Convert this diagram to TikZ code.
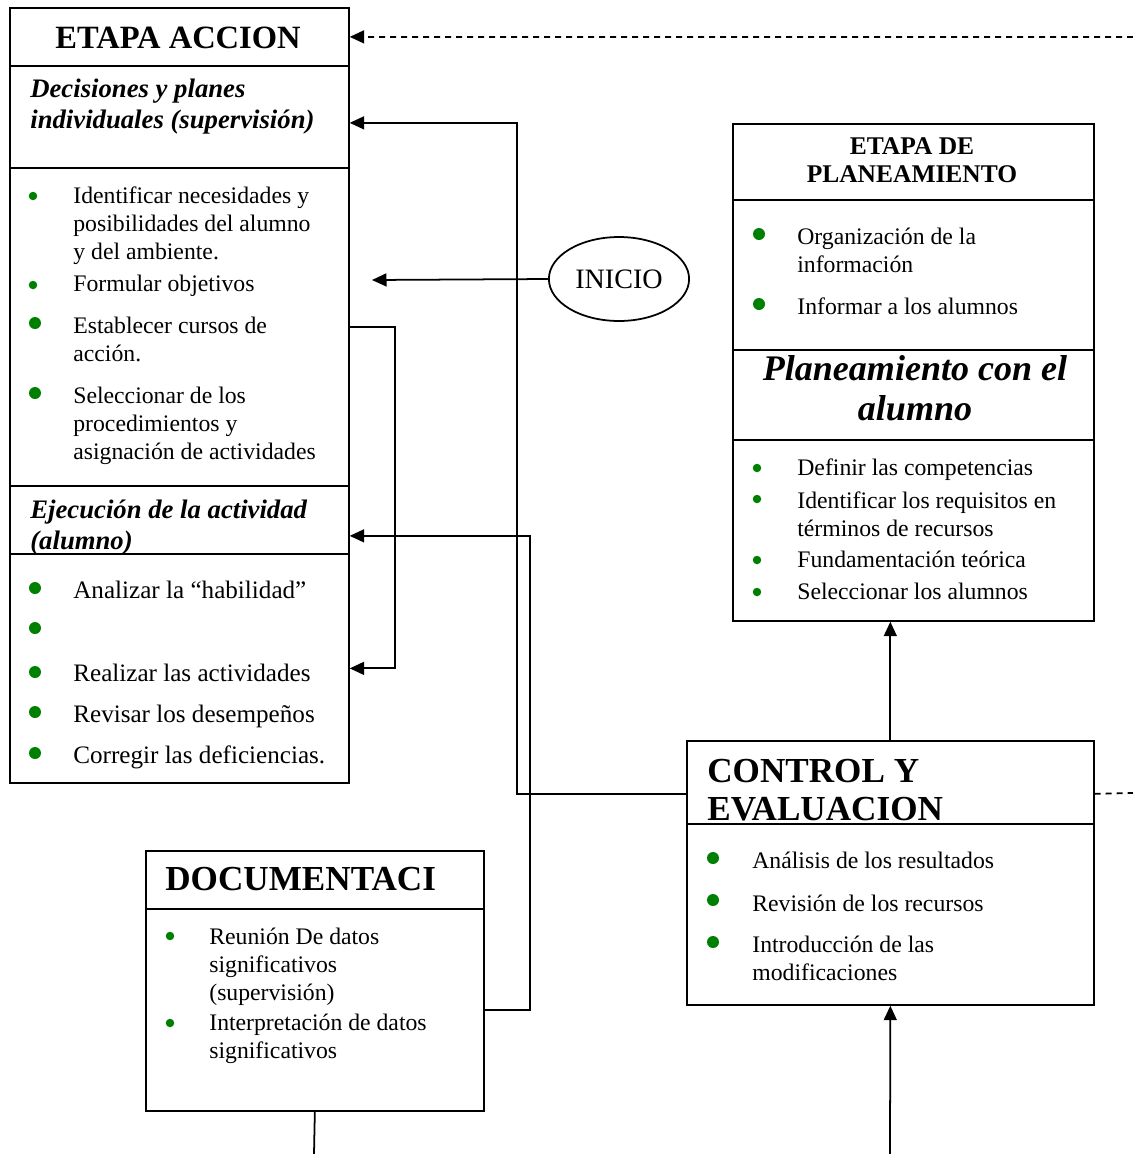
\documentclass[tikz,border=0pt]{standalone}
\usepackage{fontspec}
\setmainfont{Liberation Serif}
\usetikzlibrary{arrows.meta,shapes.geometric}

\definecolor{bulletgreen}{RGB}{0,128,0}
\newcommand\fItem{\fontsize{13.5}{15.9}\selectfont}
\newcommand\fBigItem{\fontsize{14.3}{16}\selectfont}
\newcommand\fTitle{\fontsize{18.5}{21.5}\selectfont\bfseries}
\newcommand\fTitleB{\fontsize{20}{21.5}\selectfont\bfseries}
\newcommand\fSub{\fontsize{15.2}{17.5}\selectfont\bfseries\itshape}
\newcommand\fPHead{\fontsize{14.5}{15.9}\selectfont\bfseries}
\newcommand\fPTitle{\fontsize{20.5}{22.7}\selectfont\bfseries\itshape}

\begin{document}
\begin{tikzpicture}[x=0.02cm,y=-0.02cm,
    cell/.style={draw,line width=1pt,anchor=north west,inner sep=0pt},
    txt/.style={anchor=base west,align=left,inner sep=0pt,font=\fItem},
    dot/.style={circle,fill=bulletgreen,inner sep=0pt,minimum size=0.24cm},
    smalldot/.style={dot,minimum size=0.17cm},
    arr/.style={line width=1pt,-{Triangle[length=2.9mm,width=2.6mm]}}]
\useasboundingbox (0,0) rectangle (1133,1154);

% etapa accion (base = last line)
\node[cell,minimum width=6.78cm,minimum height=1.16cm] (aH) at (9,7) {};
\node[cell,minimum width=6.78cm,minimum height=2.04cm] (aDec) at (9,65) {};
\node[cell,minimum width=6.78cm,minimum height=6.36cm] (aList1) at (9,167) {};
\node[cell,minimum width=6.78cm,minimum height=1.36cm] (aEje) at (9,485) {};
\node[cell,minimum width=6.78cm,minimum height=4.58cm] (aList2) at (9,553) {};
\node[anchor=base,inner sep=0pt,font=\fTitle] (aHt) at (178,48) {ETAPA ACCION};
\node[txt,font=\fSub] (aDect) at (30,128) {Decisiones y planes\\individuales (supervisión)};
\node[txt] (a1) at (73,259) {Identificar necesidades y\\posibilidades del alumno\\y del ambiente.};
\node[txt] (a2) at (73,291) {Formular objetivos};
\node[txt] (a3) at (73,361) {Establecer cursos de\\acción.};
\node[txt] (a4) at (73,459) {Seleccionar de los\\procedimientos y\\asignación de actividades};
\node[txt,font=\fSub] (aEjet) at (30,549) {Ejecución de la actividad\\(alumno)};
\node[txt,font=\fBigItem] (a5) at (73,598) {Analizar la “habilidad”};
\node[txt,font=\fBigItem] (a6) at (73,681) {Realizar las actividades};
\node[txt,font=\fBigItem] (a7) at (73,722) {Revisar los desempeños};
\node[txt,font=\fBigItem] (a8) at (73,763) {Corregir las deficiencias.};
\foreach \y [count=\i] in {196,285} \node[smalldot] (ad\i) at (33,\y) {};
\foreach \y [count=\i] in {323,393,588,628,672,712,753} \node[dot] (aD\i) at (35,\y) {};

% etapa de planeamiento
\node[cell,minimum width=7.22cm,minimum height=1.52cm] (pH) at (732,123) {};
\node[cell,minimum width=7.22cm,minimum height=3cm] (pList1) at (732,199) {};
\node[cell,minimum width=7.22cm,minimum height=1.8cm] (pCon) at (732,349) {};
\node[cell,minimum width=7.22cm,minimum height=3.62cm] (pList2) at (732,439) {};
\node[anchor=base,align=center,inner sep=0pt,font=\fPHead] (pHt) at (912,182) {ETAPA DE\\PLANEAMIENTO};
\node[txt] (p1) at (797,272) {Organización de la\\información};
\node[txt] (p2) at (797,314) {Informar a los alumnos};
\node[anchor=base,align=center,inner sep=0pt,font=\fPTitle] (pCont) at (915,420) {Planeamiento con el\\alumno};
\node[txt] (p3) at (797,475) {Definir las competencias};
\node[txt] (p4) at (797,536) {Identificar los requisitos en\\términos de recursos};
\node[txt] (p5) at (797,567) {Fundamentación teórica};
\node[txt] (p6) at (797,599) {Seleccionar los alumnos};
\foreach \y [count=\i] in {234,304} \node[dot] (pD\i) at (759,\y) {};
\foreach \y [count=\i] in {468,499,560,592} \node[smalldot] (pd\i) at (757,\y) {};

% control y evaluacion
\node[cell,minimum width=8.14cm,minimum height=1.66cm] (cH) at (686,740) {};
\node[cell,minimum width=8.14cm,minimum height=3.62cm] (cB) at (686,823) {};
\node[txt,font=\fTitleB] (cHt) at (707,820) {CONTROL Y\\EVALUACION};
\node[txt] (c1) at (752,868) {Análisis de los resultados};
\node[txt] (c2) at (752,911) {Revisión de los recursos};
\node[txt] (c3) at (752,980) {Introducción de las\\modificaciones};
\foreach \y [count=\i] in {858,900,942} \node[dot] (cD\i) at (713,\y) {};

% documentacion
\node[cell,minimum width=6.76cm,minimum height=1.16cm] (dH) at (145,850) {};
\node[cell,minimum width=6.76cm,minimum height=4.04cm] (dB) at (145,908) {};
\node[txt,font=\fTitleB] (dHt) at (165,890) {DOCUMENTACI};
\node[txt] (d1) at (209,1000) {Reunión De datos\\significativos\\(supervisión)};
\node[txt] (d2) at (209,1058) {Interpretación de datos\\significativos};
\foreach \y [count=\i] in {936,1023} \node[smalldot] (dd\i) at (170,\y) {};

\node[draw,ellipse,line width=1pt,minimum width=2.72cm,minimum height=1.68cm,font=\fontsize{16}{18}\selectfont] (inicio) at (619,279) {INICIO};

% conectores
\coordinate (edgeTop) at (1133,37);
\coordinate (edgeMid) at (1133,793);
\coordinate (edgeBot) at (890,1154);
\coordinate (edgeDoc) at (314,1154);
\coordinate (inicioTip) at (372,280);
\draw[arr,dash pattern=on 0.12cm off 0.1cm] (edgeTop) -- (aH.east);
\draw[line width=1pt,dash pattern=on 0.12cm off 0.1cm] ([yshift=-0.23cm]cH.east) -- (edgeMid);
\draw[arr] ([yshift=-0.23cm]cH.west) -- ++(-169,0) |- ([yshift=-0.12cm]aDec.east);
\draw[arr] (dB.east) -- ++(45,0) |- ([yshift=-0.32cm]aEje.east);
\draw[arr] (aList1.east) -- ++(45,0) |- (aList2.east);
\draw[arr] (inicio.west) -- (inicioTip);
\draw[arr] (cH.north) -- (pList2.south -| cH.north);
\draw[arr] (edgeBot) -- (cB.south);
\draw[line width=1pt] (dB.south) -- (edgeDoc);
\end{tikzpicture}
\end{document}
